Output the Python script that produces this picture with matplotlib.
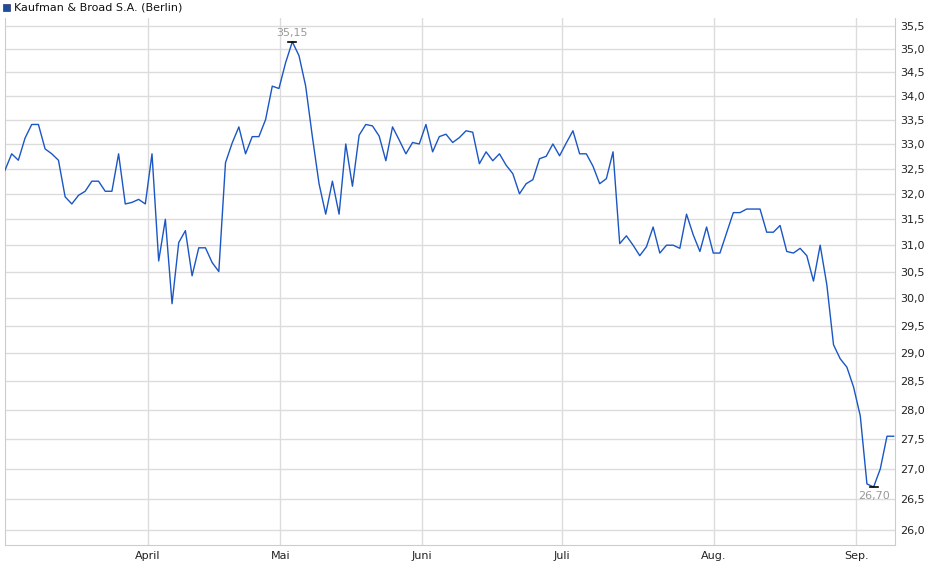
import matplotlib
matplotlib.use("Agg")
import matplotlib.pyplot as plt
from matplotlib.ticker import FixedLocator, NullLocator

prices = [32.47,32.8,32.67,33.12,33.4,33.4,32.9,32.8,32.67,31.94,31.8,31.97,32.05,32.25,32.25,32.05,32.05,32.8,31.8,31.83,31.89,31.8,32.8,30.7,31.5,29.9,31.05,31.28,30.42,30.95,30.95,30.67,30.5,32.62,33.02,33.35,32.8,33.15,33.15,33.5,34.2,34.15,34.7,35.15,34.85,34.2,33.15,32.2,
          31.6,32.25,31.6,33.0,32.15,33.18,33.4,33.37,33.16,32.66,33.35,33.08,32.8,33.03,33.0,33.4,32.84,33.15,33.2,33.03,33.13,33.27,33.24,32.6,32.84,32.66,32.8,32.57,32.4,32.0,32.2,32.28,32.7,32.75,33.0,32.76,33.02,33.27,32.8,32.8,32.55,32.2,32.3,32.84,
          31.03,31.18,31.0,30.8,30.97,31.35,30.85,31.0,31.0,30.94,31.6,31.2,30.88,31.35,30.85,30.85,31.24,31.63,31.63,31.7,31.7,31.7,31.25,31.25,31.38,30.88,30.85,30.94,30.8,30.32,31.0,30.25,29.15,28.9,28.75,28.4,27.9,26.75,26.7,27.0,27.55,27.55]
month_labels = ["April","Mai","Juni","Juli","Aug.","Sep."]
month_pos = [21.4,41.2,62.4,83.4,106.1,127.4]
y_ticks = [26.0,26.5,27.0,27.5,28.0,28.5,29.0,29.5,30.0,30.5,31.0,31.5,32.0,32.5,33.0,33.5,34.0,34.5,35.0,35.5]

fig = plt.figure(figsize=(9.4,5.79), dpi=100)
ax = fig.add_axes([5/940, 1-545/579, 890/940, 527/579])
x = list(range(len(prices)))
ax.plot(x, prices, color="#1a56c4", lw=1.0, zorder=3)
ax.set_yscale("log")
ax.set_ylim(25.76, 35.67)
ax.set_xlim(0, 133.2)
ax.yaxis.set_major_locator(FixedLocator(y_ticks))
ax.yaxis.set_minor_locator(NullLocator())
ax.set_yticklabels([f"{v:.1f}".replace(".", ",") for v in y_ticks])
ax.set_xticks(month_pos)
ax.set_xticklabels(month_labels)
ax.yaxis.tick_right()
ax.tick_params(axis="both", length=0, labelsize=8, colors="#222222", pad=4)
ax.tick_params(axis="x", pad=4)
ax.grid(True, color="#dcdcdc", lw=1)
ax.set_axisbelow(True)
for s in ["top"]:
    ax.spines[s].set_visible(False)
for s in ["left","right","bottom"]:
    ax.spines[s].set_color("#cccccc")

imax = prices.index(max(prices)); imin = prices.index(min(prices))
ax.plot([imax-0.6, imax+0.6], [prices[imax]]*2, color="black", lw=1.2, zorder=4)
ax.annotate(f"{prices[imax]:.2f}".replace(".", ","), (imax, prices[imax]), xytext=(0, 3),
            textcoords="offset points", ha="center", va="bottom", fontsize=8, color="#999999")
ax.plot([imin-0.6, imin+0.6], [prices[imin]]*2, color="black", lw=1.2, zorder=4)
ax.annotate(f"{prices[imin]:.2f}".replace(".", ","), (imin, prices[imin]), xytext=(0, -3),
            textcoords="offset points", ha="center", va="top", fontsize=8, color="#999999")

fig.patches.append(plt.Rectangle((3/940, 1-11/579), 7/940, 7/579, transform=fig.transFigure,
                                 facecolor="#1a4fa0", edgecolor="#333366", lw=0.5))
fig.text(14/940, 1-7.5/579, "Kaufman & Broad S.A. (Berlin)", fontsize=8, va="center", ha="left", color="#111111")
fig.savefig("out.png", dpi=100)
